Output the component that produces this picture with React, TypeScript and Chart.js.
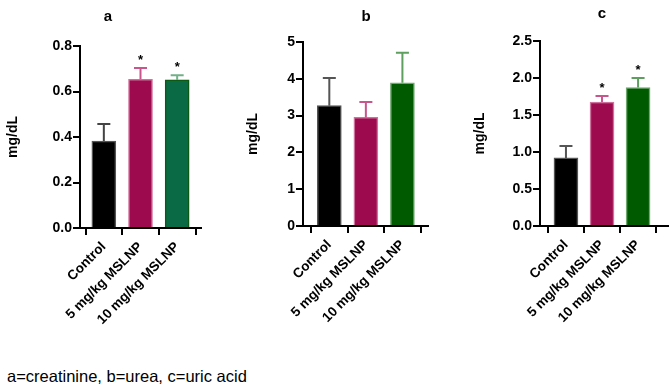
import React, { useEffect, useRef } from 'react';
import { Chart, registerables } from 'chart.js';

Chart.register(...registerables);

const categories = ['Control', '5 mg/kg MSLNP', '10 mg/kg MSLNP'];

const creatinine = [0.382, 0.654, 0.651];
const creatinineErr = [0.075, 0.049, 0.02];
const creatinineSig = [false, true, true];
const creatinineTicks = [0, 0.2, 0.4, 0.6, 0.8];

const urea = [3.27, 2.95, 3.89];
const ureaErr = [0.75, 0.42, 0.82];
const ureaSig = [false, false, false];
const ureaTicks = [0, 1, 2, 3, 4, 5];

const uricAcid = [0.92, 1.676, 1.87];
const uricAcidErr = [0.16, 0.081, 0.13];
const uricAcidSig = [false, true, true];
const uricAcidTicks = [0, 0.5, 1.0, 1.5, 2.0, 2.5];

const FONT = '"Liberation Sans", Arial, Helvetica, sans-serif';

type PanelCfg = {
  title: string;
  values: number[];
  errors: number[];
  sig: boolean[];
  yTicks: number[];
  decimals: number;
  fills: string[];
  borders: string[];
  errColors: string[];
  left: number;
  width: number;
  height: number;
  padding: { left: number; right: number; top: number; bottom: number };
  yAxisWidth: number;
  xAxisHeight: number;
  xMin: number;
  xMax: number;
  titleX: number;
  titleY: number;
  yTitleX: number;
};

const panels: PanelCfg[] = [
  {
    title: 'a',
    values: creatinine,
    errors: creatinineErr,
    sig: creatinineSig,
    yTicks: creatinineTicks,
    decimals: 1,
    fills: ['#000000', '#9E0A4E', '#0B6A46'],
    borders: ['#555555', '#D0709C', '#0A5A14'],
    errColors: ['#444444', '#C8558C', '#72B088'],
    left: 0,
    width: 222,
    height: 330,
    padding: { left: 40, right: 21, top: 46, bottom: 0 },
    yAxisWidth: 40,
    xAxisHeight: 102,
    xMin: -0.65,
    xMax: 2.65,
    titleX: 108,
    titleY: 17,
    yTitleX: 13,
  },
  {
    title: 'b',
    values: urea,
    errors: ureaErr,
    sig: ureaSig,
    yTicks: ureaTicks,
    decimals: 0,
    fills: ['#000000', '#9E0A4E', '#005A00'],
    borders: ['#555555', '#D0709C', '#6FA86F'],
    errColors: ['#555555', '#C8558C', '#5E9E5E'],
    left: 222,
    width: 222,
    height: 330,
    padding: { left: 41, right: 16, top: 42, bottom: 0 },
    yAxisWidth: 40,
    xAxisHeight: 104,
    xMin: -0.72,
    xMax: 2.7,
    titleX: 144,
    titleY: 17,
    yTitleX: 31,
  },
  {
    title: 'c',
    values: uricAcid,
    errors: uricAcidErr,
    sig: uricAcidSig,
    yTicks: uricAcidTicks,
    decimals: 1,
    fills: ['#000000', '#9E0A4E', '#005A00'],
    borders: ['#555555', '#D0709C', '#6FA86F'],
    errColors: ['#555555', '#C8558C', '#5E9E5E'],
    left: 444,
    width: 225,
    height: 330,
    padding: { left: 56, right: 1, top: 41, bottom: 0 },
    yAxisWidth: 40,
    xAxisHeight: 104,
    xMin: -0.72,
    xMax: 2.83,
    titleX: 158,
    titleY: 14,
    yTitleX: 36,
  },
];

function makeOverlayPlugin(cfg: PanelCfg) {
  return {
    id: 'overlay' + cfg.title,
    afterDatasetsDraw(chart: any) {
      const ctx = chart.ctx;
      const meta = chart.getDatasetMeta(0);
      const yScale = chart.scales.y;
      ctx.save();
      meta.data.forEach((el: any, i: number) => {
        const x = el.x;
        const yBar = el.y;
        const yTop = yScale.getPixelForValue(cfg.values[i] + cfg.errors[i]);
        ctx.strokeStyle = cfg.errColors[i];
        ctx.lineWidth = 2;
        ctx.beginPath();
        ctx.moveTo(x, yBar);
        ctx.lineTo(x, yTop);
        ctx.moveTo(x - 6.5, yTop);
        ctx.lineTo(x + 6.5, yTop);
        ctx.stroke();
        if (cfg.sig[i]) {
          ctx.fillStyle = '#000';
          ctx.font = `bold 13px ${FONT}`;
          ctx.textAlign = 'center';
          ctx.textBaseline = 'alphabetic';
          ctx.fillText('*', x, yTop - 4);
        }
      });
      ctx.restore();
    },
    afterDraw(chart: any) {
      const ctx = chart.ctx;
      const area = chart.chartArea;
      ctx.save();
      ctx.fillStyle = '#000';
      ctx.font = `bold 15px ${FONT}`;
      ctx.textAlign = 'center';
      ctx.textBaseline = 'middle';
      ctx.fillText(cfg.title, cfg.titleX, cfg.titleY);
      ctx.translate(cfg.yTitleX, (area.top + area.bottom) / 2);
      ctx.rotate(-Math.PI / 2);
      ctx.font = `bold 14px ${FONT}`;
      ctx.fillText('mg/dL', 0, 0);
      ctx.restore();
    },
  };
}

function Panel({ cfg }: { cfg: PanelCfg }) {
  const ref = useRef<HTMLCanvasElement>(null);
  useEffect(() => {
    if (!ref.current) return;
    const chart = new Chart(ref.current, {
      type: 'bar',
      data: {
        datasets: [
          {
            data: cfg.values.map((v, i) => ({ x: i, y: v })),
            backgroundColor: cfg.fills,
            borderColor: cfg.borders,
            borderWidth: 1.5,
            barThickness: 24,
          } as any,
        ],
      },
      options: {
        responsive: false,
        maintainAspectRatio: false,
        animation: false,
        layout: { padding: cfg.padding },
        plugins: {
          legend: { display: false },
          tooltip: { enabled: false },
          title: { display: false },
        },
        scales: {
          x: {
            type: 'linear',
            offset: false,
            min: cfg.xMin,
            max: cfg.xMax,
            afterBuildTicks: (s: any) => {
              s.ticks = categories.map((_, i) => ({ value: i }));
            },
            afterFit: (s: any) => {
              s.height = cfg.xAxisHeight;
            },
            ticks: {
              callback: (v: any) => categories[v as number] ?? '',
              minRotation: 45,
              maxRotation: 45,
              autoSkip: false,
              color: '#000',
              padding: 4,
              font: { family: FONT, size: 13.5, weight: 'bold' },
            },
            grid: {
              drawOnChartArea: false,
              drawTicks: true,
              tickLength: 7,
              color: '#000',
              lineWidth: 2,
            },
            border: { display: true, color: '#000', width: 2 },
          },
          y: {
            min: 0,
            max: cfg.yTicks[cfg.yTicks.length - 1],
            afterBuildTicks: (s: any) => {
              s.ticks = cfg.yTicks.map((v) => ({ value: v }));
            },
            afterFit: (s: any) => {
              s.width = cfg.yAxisWidth;
            },
            ticks: {
              callback: (v: any) => Number(v).toFixed(cfg.decimals),
              color: '#000',
              padding: 1,
              font: { family: FONT, size: 14, weight: 'bold' },
            },
            grid: {
              drawOnChartArea: false,
              drawTicks: true,
              tickLength: 7,
              color: '#000',
              lineWidth: 2,
            },
            border: { display: true, color: '#000', width: 2 },
          },
        },
      } as any,
      plugins: [makeOverlayPlugin(cfg)],
    });
    return () => chart.destroy();
  }, []);
  return (
    <canvas
      ref={ref}
      width={cfg.width}
      height={cfg.height}
      style={{ position: 'absolute', left: cfg.left, top: 0, width: cfg.width, height: cfg.height }}
    />
  );
}

export default function App() {
  return (
    <div
      style={{
        position: 'absolute',
        left: 0,
        top: 0,
        width: 669,
        height: 387,
        background: '#fff',
        overflow: 'hidden',
      }}
    >
      {panels.map((p) => (
        <Panel key={p.title} cfg={p} />
      ))}
      <div
        style={{
          position: 'absolute',
          left: 7,
          top: 367,
          fontFamily: FONT,
          fontSize: 16.5,
          color: '#000',
          whiteSpace: 'nowrap',
          lineHeight: '19px',
        }}
      >
        a=creatinine, b=urea, c=uric acid
      </div>
    </div>
  );
}
